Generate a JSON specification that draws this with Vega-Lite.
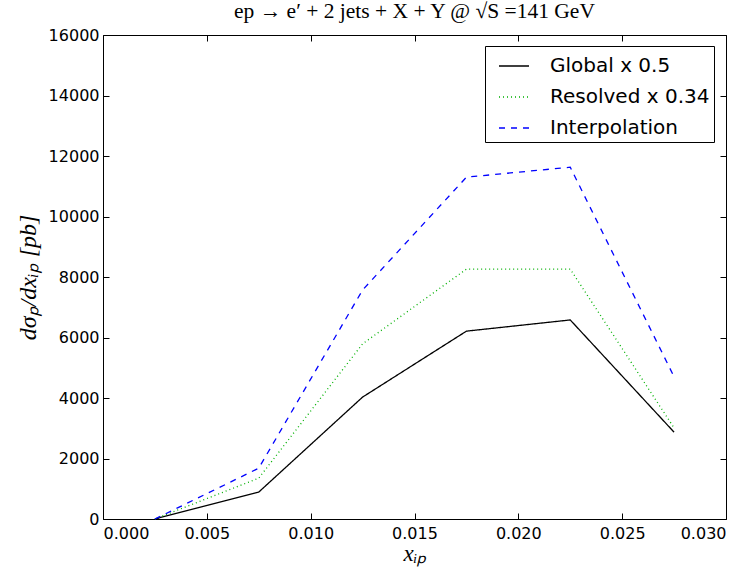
{
  "$schema": "https://vega.github.io/schema/vega-lite/v6.json",
  "width": 623,
  "height": 484,
  "autosize": {"type": "none"},
  "padding": {"left": 103, "top": 35, "right": 24, "bottom": 52},
  "background": "white",
  "config": {
    "view": {"stroke": "black", "strokeWidth": 1},
    "axis": {"grid": false, "domain": false, "tickColor": "black", "tickSize": -6, "labelFont": "DejaVu Sans", "labelFontSize": 16, "labelColor": "black", "titleColor": "black"}
  },
  "title": {"text": "ep → e′ + 2 jets + X + Y @ √S =141 GeV", "font": "Liberation Serif", "fontSize": 21.5, "fontWeight": "normal", "color": "black", "anchor": "middle", "offset": 5},
  "data": {"values": [
    {"x": 0.0025, "y": 0, "s": "Global x 0.5"},
    {"x": 0.0075, "y": 890, "s": "Global x 0.5"},
    {"x": 0.0125, "y": 4030, "s": "Global x 0.5"},
    {"x": 0.0175, "y": 6210, "s": "Global x 0.5"},
    {"x": 0.0225, "y": 6580, "s": "Global x 0.5"},
    {"x": 0.0275, "y": 2870, "s": "Global x 0.5"},
    {"x": 0.0025, "y": 0, "s": "Resolved x 0.34"},
    {"x": 0.0075, "y": 1350, "s": "Resolved x 0.34"},
    {"x": 0.0125, "y": 5790, "s": "Resolved x 0.34"},
    {"x": 0.0175, "y": 8260, "s": "Resolved x 0.34"},
    {"x": 0.0225, "y": 8260, "s": "Resolved x 0.34"},
    {"x": 0.0275, "y": 3010, "s": "Resolved x 0.34"},
    {"x": 0.0025, "y": 0, "s": "Interpolation"},
    {"x": 0.0075, "y": 1680, "s": "Interpolation"},
    {"x": 0.0125, "y": 7570, "s": "Interpolation"},
    {"x": 0.0175, "y": 11300, "s": "Interpolation"},
    {"x": 0.0225, "y": 11630, "s": "Interpolation"},
    {"x": 0.0275, "y": 4700, "s": "Interpolation"}
  ]},
  "layer": [
    {
      "mark": {"type": "line", "strokeWidth": 1.3},
      "encoding": {
        "x": {"field": "x", "type": "quantitative", "scale": {"domain": [0, 0.03], "nice": false, "zero": false},
          "axis": {"orient": "bottom", "values": [0, 0.005, 0.01, 0.015, 0.02, 0.025, 0.03], "format": ".3f", "labelPadding": 12, "title": "xᵢₚ", "titleFont": "Liberation Serif", "titleFontStyle": "italic", "titleFontWeight": "normal", "titleFontSize": 23, "titlePadding": 1}},
        "y": {"field": "y", "type": "quantitative", "scale": {"domain": [0, 16000], "nice": false},
          "axis": {"orient": "left", "values": [0, 2000, 4000, 6000, 8000, 10000, 12000, 14000, 16000], "format": "d", "labelPadding": 10, "title": "dσₚ/dxᵢₚ [pb]", "titleFont": "Liberation Serif", "titleFontStyle": "italic", "titleFontWeight": "normal", "titleFontSize": 24, "titlePadding": 8}},
        "color": {"field": "s", "type": "nominal", "scale": {"domain": ["Global x 0.5", "Resolved x 0.34", "Interpolation"], "range": ["#000000", "#00b000", "#0000ff"]},
          "legend": {"title": null, "orient": "none", "legendX": 382, "legendY": 11, "fillColor": "white", "strokeColor": "black", "padding": 4, "symbolOffset": 9, "labelFont": "DejaVu Sans", "labelFontSize": 20, "labelColor": "black", "symbolType": "stroke", "symbolSize": 900, "symbolStrokeWidth": 1.3, "rowPadding": 5, "labelOffset": 20, "labelLimit": 300}},
        "strokeDash": {"field": "s", "type": "nominal", "scale": {"domain": ["Global x 0.5", "Resolved x 0.34", "Interpolation"], "range": [[1, 0], [1, 3], [6, 6]]}, "legend": null}
      }
    },
    {
      "mark": {"type": "line", "opacity": 0},
      "encoding": {
        "x": {"field": "x", "type": "quantitative", "axis": {"orient": "top", "values": [0, 0.005, 0.01, 0.015, 0.02, 0.025, 0.03], "labels": false, "title": null}},
        "y": {"field": "y", "type": "quantitative", "axis": {"orient": "right", "values": [0, 2000, 4000, 6000, 8000, 10000, 12000, 14000, 16000], "labels": false, "title": null}}
      }
    }
  ],
  "resolve": {"axis": {"x": "independent", "y": "independent"}}
}
